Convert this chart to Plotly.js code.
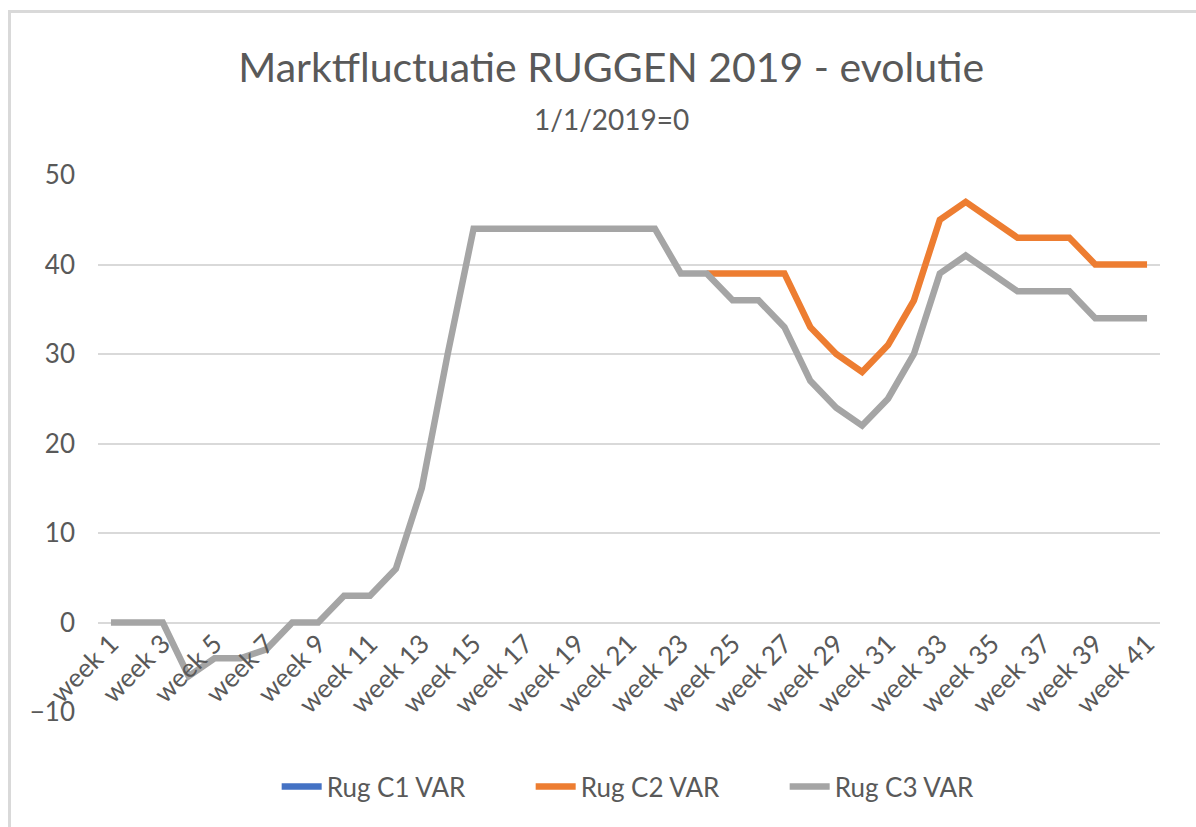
<!DOCTYPE html>
<html>
<head>
<meta charset="utf-8">
<script src="https://cdn.plot.ly/plotly-3.0.1.min.js"></script>
<style>
html,body{margin:0;padding:0;background:#fff;}
#wrap{position:relative;width:1196px;height:827px;}
#chart{width:1196px;height:827px;}
#frame{position:absolute;left:8px;top:10px;right:0;bottom:0;border-left:3px solid #d9d9d9;border-top:3px solid #d9d9d9;pointer-events:none;}
</style>
</head>
<body>
<div id="wrap"><div id="chart"></div><div id="frame"></div></div>
<script>
const weeks = ["week 1","week 2","week 3","week 4","week 5","week 6","week 7","week 8","week 9","week 10",
  "week 11","week 12","week 13","week 14","week 15","week 16","week 17","week 18","week 19","week 20",
  "week 21","week 22","week 23","week 24","week 25","week 26","week 27","week 28","week 29","week 30",
  "week 31","week 32","week 33","week 34","week 35","week 36","week 37","week 38","week 39","week 40","week 41"];
const tickLabels = ["week 1","week 3","week 5","week 7","week 9","week 11","week 13","week 15","week 17","week 19",
  "week 21","week 23","week 25","week 27","week 29","week 31","week 33","week 35","week 37","week 39","week 41"];
const rugC1 = [null,null,null,null,null,null,null,null,null,null,
  null,null,null,null,null,null,null,null,null,null,
  null,null,null,null,null,null,null,null,null,null,
  null,null,null,null,null,null,null,null,null,null,null];
const rugC2 = [null,null,null,null,null,null,null,null,null,null,
  null,null,null,null,null,null,null,null,null,null,
  null,null,null,39,39,39,39,33,30,28,
  31,36,45,47,45,43,43,43,40,40,40];
const rugC3 = [0,0,0,-6,-4,-4,-3,0,0,3,
  3,6,15,30,44,44,44,44,44,44,
  44,44,39,39,36,36,33,27,24,22,
  25,30,39,41,39,37,37,37,34,34,34];

const FONT = "Lato, 'Open Sans', sans-serif";
const TXT = "#595959";
const seriesNames = ["Rug C1 VAR","Rug C2 VAR","Rug C3 VAR"];
const colors = ["#4472C4","#ED7D31","#A5A5A5"];
const values = [rugC1, rugC2, rugC3];

const traces = values.map((v,i)=>({
  type:"scatter", mode:"lines", name:seriesNames[i], x:weeks, y:v,
  line:{color:colors[i], width:6.5}, connectgaps:false, hoverinfo:"x+y+name"
}));

const layout = {
  width:1196, height:827,
  margin:{l:98, r:36, t:175, b:115},
  paper_bgcolor:"#fff", plot_bgcolor:"#fff",
  font:{family:FONT, color:TXT},
  title:{
    text:"Marktfluctuatie RUGGEN 2019 - evolutie",
    font:{family:FONT, size:41, color:TXT},
    xref:"container", x:0.511, xanchor:"center",
    yref:"container", y:0.935, yanchor:"top"
  },
  annotations:[{
    text:"1/1/2019=0", showarrow:false,
    xref:"paper", yref:"paper", x:(611-98)/1062, y:(712-119)/537,
    xanchor:"center", yanchor:"middle",
    font:{family:FONT, size:28, color:TXT}
  }],
  xaxis:{
    type:"category", categoryorder:"array", categoryarray:weeks,
    range:[-0.5, 40.5],
    tickmode:"array", tickvals:tickLabels, ticktext:tickLabels,
    tickangle:-45, tickfont:{family:FONT, size:26, color:TXT},
    showgrid:false, zeroline:false, showline:false, ticks:"",
    anchor:"free", position:10/60, fixedrange:true
  },
  yaxis:{
    range:[-10,50], dtick:10, tick0:0,
    gridcolor:"#d9d9d9", gridwidth:2, zeroline:false, showline:false,
    tickfont:{family:FONT, size:26, color:TXT}, ticklabelstandoff:22,
    domain:[0,1]
  },
  showlegend:true,
  legend:{
    orientation:"h", x:0.527, xanchor:"center", y:-0.095, yanchor:"top",
    font:{family:FONT, size:26, color:TXT},
    entrywidth:199, entrywidthmode:"pixels", itemwidth:40,
    traceorder:"normal"
  }
};

Plotly.newPlot("chart", traces, layout, {displayModeBar:false, staticPlot:true});
</script>
</body>
</html>
